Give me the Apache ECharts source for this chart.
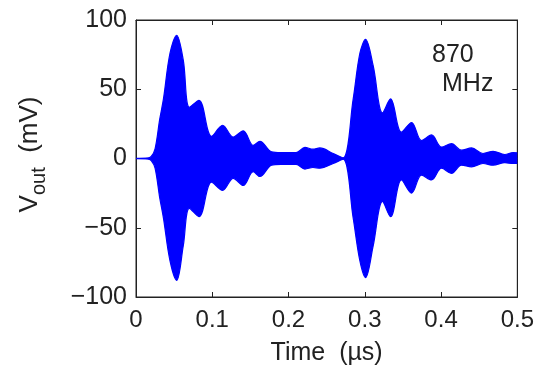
<!DOCTYPE html>
<html>
<head>
<meta charset="utf-8">
<script src="https://cdn.jsdelivr.net/npm/echarts@6/dist/echarts.min.js"></script>
<style>
html,body{margin:0;padding:0;background:#fff;}
#chart{width:537px;height:371px;}
</style>
</head>
<body>
<div id="chart"></div>
<script>
// Envelope of the measured output signal (time in µs, voltage in mV)
var times = [0.000, 0.015, 0.020, 0.025, 0.031, 0.036, 0.0446, 0.0533, 0.062, 0.070, 0.0826, 0.099,
             0.1136, 0.1275, 0.1406, 0.1537, 0.1625, 0.1778, 0.190, 0.210, 0.2215, 0.232, 0.241, 0.2586,
             0.2717, 0.2848, 0.2936, 0.301, 0.311, 0.3233, 0.3338, 0.348, 0.3613, 0.3744, 0.3875, 0.4006,
             0.4137, 0.4268, 0.440, 0.455, 0.4683, 0.4836, 0.4945, 0.500];
var upper = [0, 0.3, 1.5, 7, 28, 43, 76, 89, 71, 37, 42, 16,
             24, 15.5, 20, 9.5, 12.4, 4.8, 4.3, 4.3, 8, 6.7, 7.6, 3.6,
             0.5, 43, 76, 86, 67, 33, 43, 19, 26, 13, 17, 8.3,
             10.7, 6, 7.6, 3.6, 5.2, 2.9, 4.3, 4];
var lower = [0, -0.3, -1.5, -7, -28, -43, -74, -88, -63, -36, -42, -17,
             -23, -14.3, -19.5, -9.5, -13, -4.8, -4.3, -4.3, -7.6, -6.5, -7, -3.6,
             -0.5, -43, -74, -86, -63, -31, -42, -15.5, -25, -12, -15.5, -7,
             -10.7, -4.8, -6, -3.6, -4.8, -3, -3.6, -3.6];
var xTicks = [0, 0.1, 0.2, 0.3, 0.4, 0.5];
var yTicks = [-100, -50, 0, 50, 100];
var annotation = ['870', 'MHz'];

function pairs(vals) {
  return times.map(function (t, i) { return [t, vals[i]]; });
}

var chart = echarts.init(document.getElementById('chart'), null, {renderer: 'canvas'});
var axisColor = '#222';
var FF = 'Liberation Sans, Arial, sans-serif';
var tickStyle = {show: true, inside: true, length: 5, lineStyle: {color: axisColor, width: 1}};

var option = {
  backgroundColor: '#fff',
  animation: false,
  grid: {left: 136, top: 20, right: 19, bottom: 72, show: true, borderColor: axisColor, borderWidth: 1, backgroundColor: 'transparent'},
  xAxis: [{
    type: 'value', min: xTicks[0], max: xTicks[xTicks.length - 1], interval: 0.1,
    axisLine: {show: true, onZero: false, lineStyle: {color: axisColor, width: 1}},
    axisTick: tickStyle,
    splitLine: {show: false},
    axisLabel: {margin: 11, color: '#222', fontSize: 24, fontFamily: FF,
      formatter: function (v) { return String(+v.toFixed(1)); }},
    name: 'Time  (\u00b5s)', nameLocation: 'middle', nameGap: 44,
    nameTextStyle: {color: '#222', fontSize: 25, fontFamily: FF}
  }, {
    type: 'value', min: xTicks[0], max: xTicks[xTicks.length - 1], interval: 0.1, position: 'top',
    axisLine: {show: true, onZero: false, lineStyle: {color: axisColor, width: 1}},
    axisTick: tickStyle,
    axisLabel: {show: false}, splitLine: {show: false}
  }],
  yAxis: [{
    type: 'value', min: yTicks[0], max: yTicks[yTicks.length - 1], interval: 50,
    axisLine: {show: true, onZero: false, lineStyle: {color: axisColor, width: 1}},
    axisTick: tickStyle,
    splitLine: {show: false},
    axisLabel: {margin: 9, color: '#222', fontSize: 25, fontFamily: FF,
      formatter: function (v) { return String(v).replace('-', '\u2212'); }},
    name: '{v|V}{s|out}{v|  (mV)}', nameLocation: 'middle', nameGap: 93, nameRotate: 90,
    nameTextStyle: {
      padding: [0, 0, 0, 8],
      rich: {
        v: {fontSize: 26, color: '#222', fontFamily: FF, verticalAlign: 'bottom'},
        s: {fontSize: 20, color: '#222', fontFamily: FF, verticalAlign: 'bottom', padding: [0, 0, -6, 0]}
      }
    }
  }, {
    type: 'value', min: yTicks[0], max: yTicks[yTicks.length - 1], interval: 50, position: 'right',
    axisLine: {show: true, onZero: false, lineStyle: {color: axisColor, width: 1}},
    axisTick: tickStyle,
    axisLabel: {show: false}, splitLine: {show: false}
  }],
  series: [{
    type: 'line', data: pairs(upper), showSymbol: false, smooth: 0.35,
    lineStyle: {color: '#0000ff', width: 1.2},
    areaStyle: {color: '#0000ff', opacity: 1, origin: -0.5},
    z: 2
  }, {
    type: 'line', data: pairs(lower), showSymbol: false, smooth: 0.35,
    lineStyle: {color: '#0000ff', width: 1.2},
    areaStyle: {color: '#0000ff', opacity: 1, origin: 0.5},
    z: 2
  }, {
    type: 'line', xAxisIndex: 1, yAxisIndex: 1, data: [], showSymbol: false, silent: true
  }],
  graphic: [{
    type: 'text', left: 432, top: 43,
    style: {text: annotation[0], fill: '#222', fontSize: 25, fontFamily: FF}
  }, {
    type: 'text', left: 442, top: 72,
    style: {text: annotation[1], fill: '#222', fontSize: 25, fontFamily: FF}
  }]
};
chart.setOption(option);
</script>
</body>
</html>
